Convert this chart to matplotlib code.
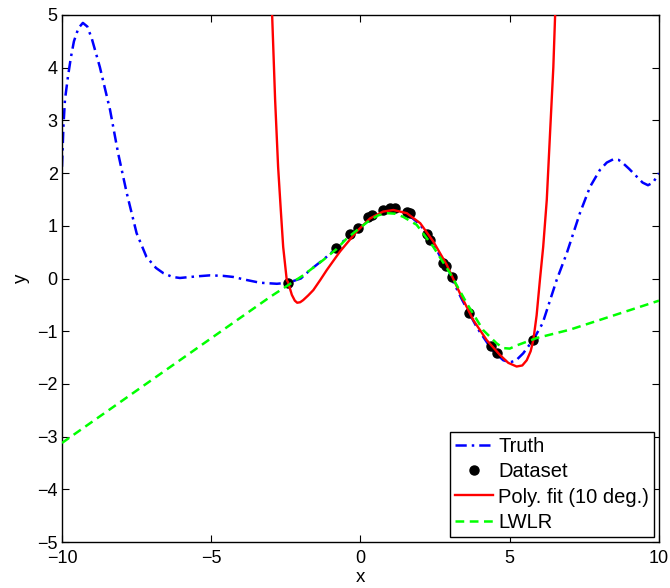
import matplotlib
matplotlib.use("Agg")
import matplotlib.pyplot as plt

plt.rcParams['font.family'] = ['Liberation Sans', 'DejaVu Sans']

# Truth curve
truth_x = [-10, -9.95, -9.9, -9.8, -9.7, -9.6, -9.45, -9.3, -9.15, -9.0, -8.73, -8.39, -8.12,
           -7.83, -7.5, -7.17, -6.85, -6.6, -6.3, -6.05, -5.5, -5.04, -4.6, -4.27, -3.8,
           -3.37, -2.8, -2.42, -2.0, -1.69, -1.2, -0.79, -0.35, 0.0, 0.4, 0.8, 1.1, 1.5,
           2.0, 2.4, 2.9, 3.4, 3.9, 4.4, 4.78, 5.0, 5.2, 5.45, 5.8, 6.1, 6.57, 6.91, 7.35,
           7.69, 8.02, 8.25, 8.46, 8.65, 8.79, 9.0, 9.26, 9.45, 9.63, 9.8, 10]
truth_y = [2.12, 2.9, 3.39, 3.83, 4.2, 4.5, 4.75, 4.85, 4.78, 4.55, 4.01, 3.2, 2.38,
           1.62, 0.86, 0.41, 0.2, 0.10, 0.03, 0.01, 0.04, 0.06, 0.05, 0.03, -0.03,
           -0.08, -0.1, -0.08, 0.0, 0.16, 0.38, 0.58, 0.84, 0.97, 1.17, 1.28, 1.31, 1.26,
           1.02, 0.70, 0.18, -0.40, -0.93, -1.35, -1.55, -1.59, -1.56, -1.42, -1.15, -0.85,
           -0.03, 0.48, 1.24, 1.74, 2.06, 2.2, 2.26, 2.25, 2.19, 2.08, 1.93, 1.82, 1.77, 1.82, 2.0]

# Dataset points
data_x = [-2.42, -0.82, -0.35, -0.07, 0.26, 0.37, 0.76, 0.99, 1.16, 1.55, 1.66,
          2.22, 2.33, 2.77, 2.86, 3.06, 3.65, 4.36, 4.56, 5.79]
data_y = [-0.08, 0.57, 0.84, 0.95, 1.17, 1.20, 1.30, 1.33, 1.33, 1.26, 1.24,
          0.84, 0.74, 0.30, 0.24, 0.03, -0.66, -1.29, -1.42, -1.17]

# Polynomial fit curve
poly_x = [-2.99, -2.96, -2.86, -2.76, -2.67, -2.59, -2.47, -2.42, -2.3, -2.2, -2.12, -2.02,
          -1.92, -1.75, -1.58, -1.35, -1.13, -0.69, -0.13, 0.32, 0.76, 1.1, 1.55, 2.0,
          2.44, 2.89, 3.33, 3.78, 4.23, 4.67, 4.95, 5.23, 5.42, 5.57, 5.7, 5.79, 5.9,
          6.01, 6.12, 6.24, 6.35, 6.46, 6.52, 6.55]
poly_y = [5.5, 5.0, 3.39, 2.12, 1.3, 0.60, -0.03, -0.08, -0.31, -0.42, -0.46, -0.45,
          -0.41, -0.32, -0.22, -0.03, 0.16, 0.51, 0.89, 1.14, 1.27, 1.30, 1.24, 1.05,
          0.70, 0.26, -0.28, -0.79, -1.17, -1.45, -1.6, -1.67, -1.65, -1.55, -1.38, -1.17, -0.7,
          -0.03, 0.6, 1.49, 2.76, 4.01, 5.0, 5.5]

# LWLR curve
lwlr_x = [-10, -3.03, -1.92, -1.25, -0.8, -0.46, 0.0, 0.32, 0.6, 0.88, 1.15, 1.43, 1.88,
          2.44, 3.0, 3.56, 4.11, 4.56, 4.78, 5.0, 5.23, 5.9, 7.02, 10]
lwlr_y = [-3.12, -0.35, 0.06, 0.35, 0.56, 0.76, 0.97, 1.11, 1.2, 1.24, 1.23, 1.17, 1.02,
          0.60, 0.10, -0.47, -0.98, -1.23, -1.32, -1.33, -1.27, -1.13, -0.97, -0.42]

fig = plt.figure(figsize=(6.7, 5.88), dpi=100)
ax = fig.add_axes([0.0925, 0.0782, 0.8911, 0.8963])

ax.plot(truth_x, truth_y, color='#0000ff', lw=1.8, linestyle=(0, (4.5, 2, 1, 2)), label='Truth', zorder=2)
ax.plot(data_x, data_y, 'o', color='black', ms=6.5, label='Dataset', zorder=3)
ax.plot(poly_x, poly_y, color='#ff0000', lw=1.7, label='Poly. fit (10 deg.)', zorder=4)
ax.plot(lwlr_x, lwlr_y, color='#00ff00', lw=1.8, linestyle=(0, (3.5, 2.2)), label='LWLR', zorder=5)

ax.set_xlim(-10, 10)
ax.set_ylim(-5, 5)
ax.set_xticks([-10, -5, 0, 5, 10])
ax.set_yticks([-5, -4, -3, -2, -1, 0, 1, 2, 3, 4, 5])
ax.tick_params(direction='in', top=True, right=True, length=5, width=0.8, labelsize=13)
ax.tick_params(axis='x', pad=6)
ax.tick_params(axis='y', pad=3)
for s in ax.spines.values():
    s.set_linewidth(1.0)
ax.set_xlabel('x', fontsize=13.5, labelpad=1)
ax.set_ylabel('y', fontsize=13.5, labelpad=5)

leg = ax.legend(loc='lower right', fontsize=14.5, frameon=True,
                fancybox=False, edgecolor='black', framealpha=1, borderpad=0.25,
                labelspacing=0.32, handlelength=1.9, handletextpad=0.25, borderaxespad=0.25)
leg.get_frame().set_linewidth(1.0)

fig.savefig('out.png', dpi=100)
